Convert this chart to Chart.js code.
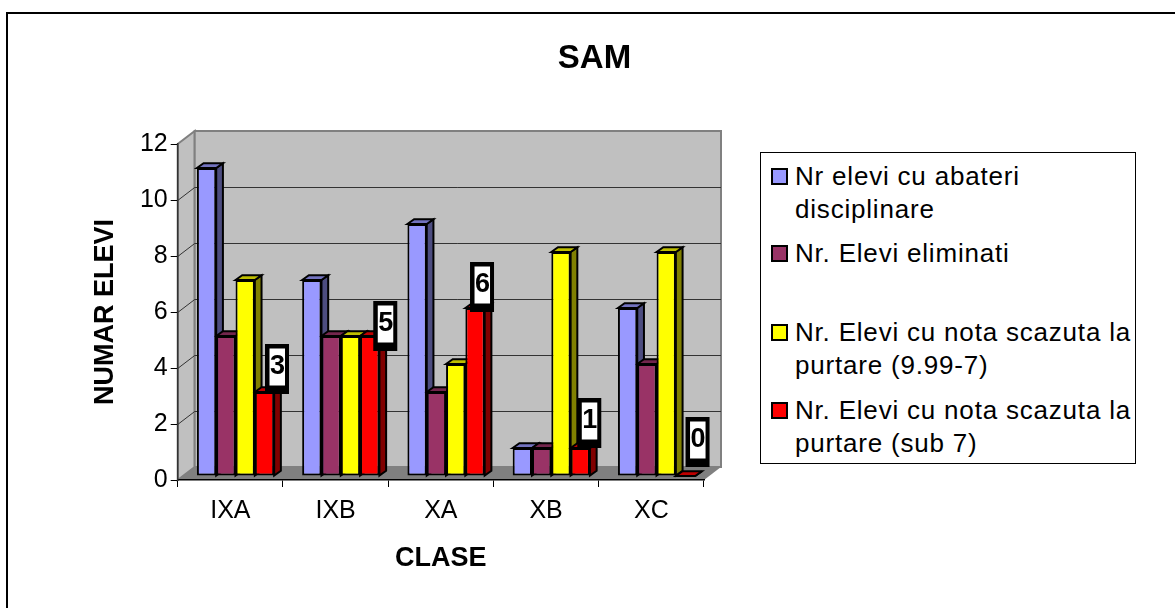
<!DOCTYPE html>
<html>
<head>
<meta charset="utf-8">
<title>SAM</title>
<script src="https://cdn.jsdelivr.net/npm/chart.js@4"></script>
<style>
    html, body { margin: 0; padding: 0; background: #fff; overflow: hidden; }
    body { width: 1175px; height: 608px; position: relative; font-family: "Liberation Sans", Arial, sans-serif; }
    /* the frame runs off the right and bottom of the picture */
    #frame { position: absolute; left: 6px; top: 12px; width: 1300px; height: 800px; border-top: 2px solid #000; border-left: 2px solid #000; }
    #myChart { position: absolute; left: 14px; top: 0; }
    #legend { position: absolute; left: 760px; top: 152px; width: 374px; height: 310px; border: 1px solid #000; background: #fff; box-sizing: content-box; }
    .item { position: absolute; left: 34px; font-size: 26px; letter-spacing: 0.8px; line-height: 32.5px; white-space: pre; color: #000; }
    .swatch { position: absolute; left: -24px; top: 8px; width: 13px; height: 13px; border: 2px solid #000; }
</style>
</head>
<body>
<div id="frame"></div>
<canvas id="myChart" width="1161" height="608"></canvas>
<div id="legend"></div>

<script>
const categories = ['IXA', 'IXB', 'XA', 'XB', 'XC'];

const seriesNames = [
    'Nr elevi cu abateri\ndisciplinare',
    'Nr. Elevi eliminati\n\u00a0',
    'Nr. Elevi cu nota scazuta la\npurtare (9.99-7)',
    'Nr. Elevi cu nota scazuta la\npurtare (sub 7)'
];

const abateri = [11, 7, 9, 1, 6];
const eliminati = [5, 5, 3, 1, 4];
const notaScazuta = [7, 5, 4, 8, 8];
const notaSub7 = [3, 5, 6, 1, 0];

// front, side and top colour of each series
const frontColors = ['#9999ff', '#993366', '#ffff00', '#ff0000'];
const sideColors = ['#4d4d80', '#4d1a33', '#808000', '#800000'];
const topColors = ['#7373bf', '#73264d', '#bfbf00', '#bf0000'];

// the labels were dragged by hand in the original, so each one has its own nudge from its bar
const labelNudgeX = [12.5, 15.5, 7, 9, 12];
const labelNudgeY = [-23, -10, -21, -25, -34];

const wallX = 17, wallY = 13;   // how far the back wall sits behind the axes
const barX = 5.2, barY = -4;    // where the bars stand on the floor
const depthX = 6.7, depthY = 4.7;

function poly(ctx, pts, fill, stroke, lw) {
    ctx.beginPath();
    pts.forEach(function (p, i) {
        if (i === 0) ctx.moveTo(p[0], p[1]);
        else ctx.lineTo(p[0], p[1]);
    });
    ctx.closePath();
    if (fill) { ctx.fillStyle = fill; ctx.fill(); }
    if (stroke) { ctx.strokeStyle = stroke; ctx.lineWidth = lw; ctx.stroke(); }
}

const walls = {
    id: 'walls',
    beforeDraw(chart) {
        const ctx = chart.ctx, a = chart.chartArea, y = chart.scales.y;
        ctx.save();
        // side wall, back wall, floor
        poly(ctx, [[a.left, a.bottom], [a.left, a.top], [a.left + wallX, a.top - wallY], [a.left + wallX, a.bottom - wallY]], '#c0c0c0', '#808080', 2);
        poly(ctx, [[a.left + wallX, a.top - wallY], [a.right + wallX, a.top - wallY], [a.right + wallX, a.bottom - wallY], [a.left + wallX, a.bottom - wallY]], '#c0c0c0', '#808080', 2);
        poly(ctx, [[a.left, a.bottom], [a.left + wallX, a.bottom - wallY], [a.right + wallX, a.bottom - wallY], [a.right, a.bottom]], '#808080');
        // gridlines bend round from the side wall onto the back wall
        ctx.strokeStyle = '#333';
        ctx.lineWidth = 1;
        y.ticks.forEach(function (t) {
            if (t.value === 0 || t.value === y.max) return;
            const py = Math.round(y.getPixelForValue(t.value)) + 0.5;
            ctx.beginPath();
            ctx.moveTo(a.left, py);
            ctx.lineTo(a.left + wallX, py - wallY);
            ctx.lineTo(a.right + wallX, py - wallY);
            ctx.stroke();
        });
        ctx.restore();
    },
    beforeDatasetsDraw(chart) {
        const ctx = chart.ctx;
        ctx.save();
        ctx.translate(barX, barY);
        // sides and tops first, the library paints the front faces over them
        chart.data.datasets.forEach(function (ds, i) {
            chart.getDatasetMeta(i).data.forEach(function (bar) {
                const p = bar.getProps(['x', 'y', 'base', 'width']);
                const l = p.x - p.width / 2, r = p.x + p.width / 2;
                poly(ctx, [[r, p.y], [r + depthX, p.y - depthY], [r + depthX, p.base - depthY], [r, p.base]], sideColors[i], '#000', 2);
                poly(ctx, [[l, p.y], [l + depthX, p.y - depthY], [r + depthX, p.y - depthY], [r, p.y]], topColors[i], '#000', 2);
            });
        });
    },
    afterDatasetsDraw(chart) {
        const ctx = chart.ctx;
        ctx.restore();

        // boxed value labels on the last series only
        const last = chart.data.datasets.length - 1;
        ctx.save();
        ctx.font = 'bold 27px "Liberation Sans"';
        ctx.textAlign = 'center';
        ctx.textBaseline = 'middle';
        chart.getDatasetMeta(last).data.forEach(function (bar, i) {
            const p = bar.getProps(['x', 'y']);
            const cx = p.x + barX + labelNudgeX[i];
            const cy = p.y + barY + labelNudgeY[i];
            ctx.fillStyle = '#000';
            ctx.fillRect(cx - 12, cy - 25, 24, 50);
            ctx.fillStyle = '#fff';
            ctx.fillRect(cx - 7.5, cy - 20.5, 15.5, 37);
            ctx.fillStyle = '#000';
            ctx.fillText(String(chart.data.datasets[last].data[i]), cx + 0.5, cy - 2);
        });
        ctx.restore();
    }
};

function makeDataset(name, values, i) {
    return {
        label: name,
        data: values,
        backgroundColor: frontColors[i],
        borderColor: '#000',
        borderWidth: 2,
        borderSkipped: false,
        barPercentage: 1,
        categoryPercentage: 0.734
    };
}

const myChart = new Chart(document.getElementById('myChart').getContext('2d'), {
    type: 'bar',
    data: {
        labels: categories,
        datasets: [
            makeDataset(seriesNames[0], abateri, 0),
            makeDataset(seriesNames[1], eliminati, 1),
            makeDataset(seriesNames[2], notaScazuta, 2),
            makeDataset(seriesNames[3], notaSub7, 3)
        ]
    },
    plugins: [walls],
    options: {
        responsive: false,
        animation: false,
        layout: { padding: 0 },
        plugins: {
            legend: { display: false },
            tooltip: { enabled: false },
            title: {
                display: true,
                text: 'SAM',
                color: '#000',
                font: { family: '"Liberation Sans"', size: 33, weight: 'bold', lineHeight: 1.2 },
                padding: { top: 39, bottom: 65.4 }
            }
        },
        scales: {
            x: {
                grid: { color: '#000', drawOnChartArea: false, tickLength: 7 },
                border: { color: '#000', width: 1.5 },
                ticks: {
                    color: '#000',
                    padding: 9,
                    maxRotation: 0,
                    font: { family: '"Liberation Sans"', size: 25 }
                },
                title: {
                    display: true,
                    text: 'CLASE',
                    color: '#000',
                    font: { family: '"Liberation Sans"', size: 27, weight: 'bold', lineHeight: 1.2 },
                    padding: { top: 0, bottom: 33 }
                },
                afterFit(scale) { scale.height = 128; }
            },
            y: {
                min: 0,
                max: 12,
                ticks: {
                    stepSize: 2,
                    color: '#000',
                    padding: 3,
                    font: { family: '"Liberation Sans"', size: 25 }
                },
                grid: { color: '#000', drawOnChartArea: false, tickLength: 7 },
                border: { color: '#333', width: 1.5 },
                title: {
                    display: true,
                    text: 'NUMAR ELEVI',
                    color: '#000',
                    font: { family: '"Liberation Sans"', size: 27, weight: 'bold', lineHeight: 1.2 },
                    padding: { top: 75, bottom: 0 }
                },
                afterFit(scale) { scale.width = 163.7; }
            },
            // empty axis, it only keeps the room on the right for the legend
            room: {
                position: 'right',
                min: 0,
                max: 1,
                ticks: { display: false },
                grid: { display: false },
                border: { display: false },
                afterFit(scale) { scale.width = 471; }
            }
        }
    }
});

// legend has wrapped lines so it is plain html, filled from the chart's datasets
const legendTops = [7, 84, 163, 241];
myChart.data.datasets.forEach(function (ds, i) {
    const item = document.createElement('div');
    item.className = 'item';
    item.style.top = legendTops[i] + 'px';
    item.textContent = ds.label;
    const swatch = document.createElement('span');
    swatch.className = 'swatch';
    swatch.style.background = ds.backgroundColor;
    item.appendChild(swatch);
    document.getElementById('legend').appendChild(item);
});
</script>
</body>
</html>
